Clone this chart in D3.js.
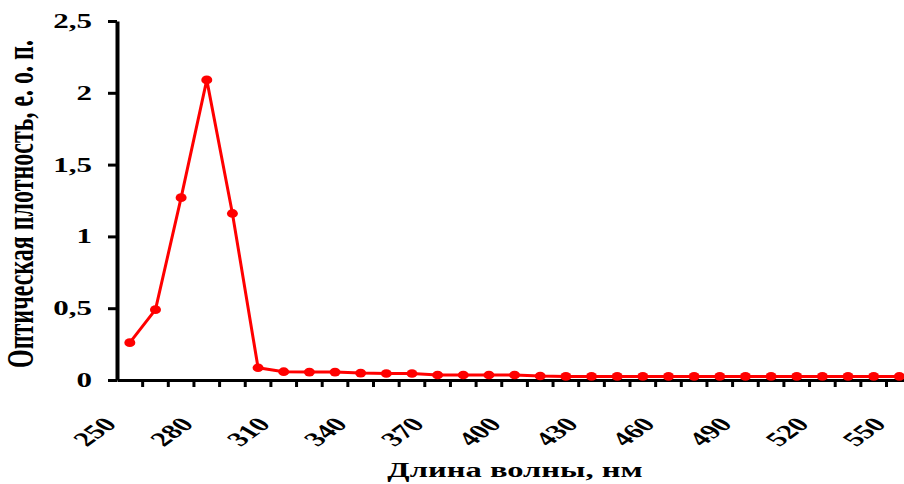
<!DOCTYPE html>
<html><head><meta charset="utf-8">
<script src="https://cdn.jsdelivr.net/npm/d3@7"></script>
<style>body{margin:0;background:#fff}svg{display:block}</style>
</head><body>
<svg id="c" width="904" height="484"></svg>
<script>
const wavelengths = [250,260,270,280,290,300,310,320,330,340,350,360,370,380,390,400,410,420,430,440,450,460,470,480,490,500,510,520,530,540,550];
const absorbance = [0.26,0.49,1.27,2.09,1.16,0.085,0.058,0.055,0.055,0.048,0.045,0.045,0.035,0.035,0.035,0.035,0.028,0.025,0.025,0.025,0.025,0.025,0.025,0.025,0.025,0.025,0.025,0.025,0.025,0.025,0.025];
const yTicks = [0,0.5,1,1.5,2,2.5];
const xLabelValues = [250,280,310,340,370,400,430,460,490,520,550];
const yTitle = "Оптическая плотность, е. о. п.";
const xTitle = "Длина волны, нм";

(function(){
const SX = 1.55;
const FONT = "'Liberation Serif','Times New Roman',serif";
const svg = d3.select("#c");
const mLeft = 117, mBottom = 380, mTop = 21, step = 25.65;
const x = d3.scaleBand().domain(wavelengths).range([mLeft, mLeft + step*wavelengths.length]);
const y = d3.scaleLinear().domain([0,2.5]).range([mBottom, mTop]);
const cx = d => x(d) + x.bandwidth()/2;

// Y axis
const ya = svg.append("g").attr("transform", `translate(${mLeft},0)`)
  .call(d3.axisLeft(y).tickValues(yTicks).tickSize(9).tickSizeOuter(0).tickFormat(""));
ya.select(".domain").attr("stroke","#000").attr("stroke-width",4);
ya.selectAll(".tick line").attr("stroke","#000").attr("stroke-width",3);

svg.append("g").selectAll("text").data(yTicks).join("text")
  .attr("transform", d => `translate(92,${y(d)}) scale(${SX},1)`)
  .attr("dy","0.35em").attr("text-anchor","end")
  .attr("font-family",FONT).attr("font-weight","bold").attr("font-size",20)
  .text(d => String(d).replace(".",","));

// X axis
const xa = svg.append("g").attr("transform", `translate(0,${mBottom})`)
  .call(d3.axisBottom(x).tickSize(0).tickFormat(""));
xa.select(".domain").attr("stroke","#000").attr("stroke-width",3);
xa.selectAll(".tick").remove();
const boundaries = wavelengths.slice(1);
svg.append("g").selectAll("line").data(boundaries).join("line")
  .attr("x1", d => x(d)).attr("x2", d => x(d))
  .attr("y1", mBottom).attr("y2", mBottom + 7)
  .attr("stroke","#000").attr("stroke-width",3);

svg.append("g").selectAll("text").data(xLabelValues).join("text")
  .attr("transform", d => `translate(${cx(d) - 12},${mBottom + 45}) scale(${SX},1) rotate(-48)`)
  .attr("text-anchor","end")
  .attr("font-family",FONT).attr("font-weight","bold").attr("font-size",20)
  .text(d => d);

// Line + markers
const line = d3.line().x((d,i) => cx(wavelengths[i])).y(d => y(d));
svg.append("path").datum(absorbance).attr("d", line)
  .attr("fill","none").attr("stroke","#ff0000").attr("stroke-width",3).attr("stroke-linejoin","round");
svg.append("g").selectAll("ellipse").data(absorbance).join("ellipse")
  .attr("cx",(d,i) => cx(wavelengths[i])).attr("cy", d => y(d))
  .attr("rx",5.5).attr("ry",4.3).attr("fill","#ff0000");

// Titles
svg.append("text")
  .attr("transform", `translate(515,477) scale(${SX},1)`)
  .attr("text-anchor","middle").attr("font-family",FONT).attr("font-weight","bold").attr("font-size",21)
  .text(xTitle);
svg.append("text")
  .attr("transform", `translate(33,204) scale(${SX},1) rotate(-90)`)
  .attr("text-anchor","middle").attr("font-family",FONT).attr("font-weight","bold").attr("font-size",24)
  .text(yTitle);
})();
</script>
</body></html>
